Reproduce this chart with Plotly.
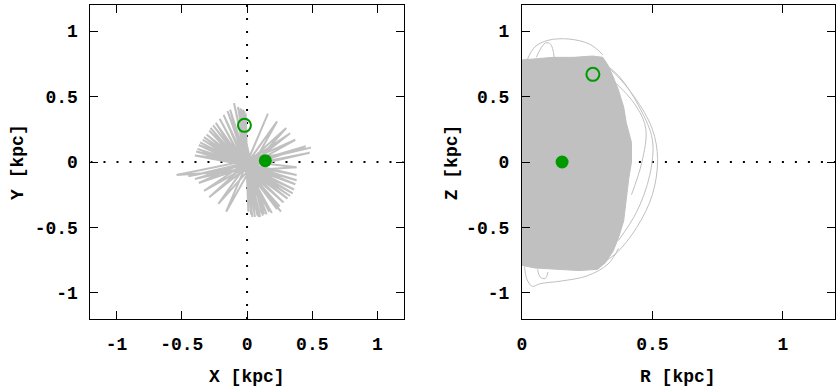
import plotly.graph_objects as go

# X-Y projection: apocentre points of the radial orbit, in path order (kpc)
XY_X = [-0.01, 0.01, -0.02, 0.03, -0.03, 0.04, -0.04, 0.06, -0.05, 0.09,
        -0.05, 0.11, -0.06, 0.12, -0.07, 0.08, -0.10, 0.10, -0.13, 0.13,
        -0.15, 0.15, -0.18, 0.17, -0.21, 0.19, -0.24, 0.23, -0.26, 0.26,
        -0.28, 0.25, -0.29, 0.28, -0.31, 0.31, -0.33, 0.33, -0.34, 0.35,
        -0.36, 0.36, -0.37, 0.37, -0.38, 0.38, -0.39, 0.38, -0.40, 0.38,
        -0.54, 0.49, -0.45, 0.48, -0.40, 0.45, -0.37, 0.37, -0.33, 0.33,
        -0.29, 0.30, -0.22, 0.23, -0.16, 0.16]
XY_Y = [0.37, -0.38, 0.39, -0.40, 0.40, -0.42, 0.40, -0.42, 0.41, -0.42,
        0.36, -0.39, 0.38, -0.41, 0.42, -0.41, 0.45, -0.42, 0.40, -0.40,
        0.39, -0.40, 0.36, -0.38, 0.33, -0.39, 0.30, -0.36, 0.28, -0.38,
        0.26, -0.34, 0.24, -0.31, 0.21, -0.28, 0.19, -0.26, 0.17, -0.24,
        0.15, -0.21, 0.13, -0.17, 0.10, -0.14, 0.08, -0.10, 0.05, -0.04,
        -0.10, 0.11, -0.11, 0.07, -0.13, 0.12, -0.16, 0.17, -0.22, 0.22,
        -0.27, 0.26, -0.32, 0.31, -0.38, 0.37]

# R-Z projection: outline of the densely filled orbit region (kpc)
RZ_FILL_R = [0.00, 0.05, 0.12, 0.20, 0.27, 0.31, 0.33, 0.35, 0.37, 0.39, 0.40, 0.42,
             0.42, 0.41, 0.40, 0.39, 0.37, 0.35, 0.32, 0.29, 0.22, 0.12, 0.05, 0.00]
RZ_FILL_Z = [0.78, 0.79, 0.80, 0.80, 0.81, 0.80, 0.74, 0.65, 0.55, 0.42, 0.30, 0.15,
             0.00, -0.12, -0.30, -0.45, -0.58, -0.68, -0.77, -0.82, -0.83, -0.82, -0.81, -0.79]

# R-Z projection: stray orbit loops outside the filled region
RZ_ARCS = [
    ([0.24, 0.33, 0.43, 0.50, 0.52, 0.50, 0.44, 0.36, 0.30],
     [0.80, 0.72, 0.50, 0.25, 0.02, -0.25, -0.50, -0.70, -0.78]),
    ([0.28, 0.37, 0.45, 0.50, 0.49, 0.44, 0.37],
     [0.80, 0.66, 0.42, 0.17, -0.10, -0.38, -0.60]),
    ([0.23, 0.35, 0.44, 0.475, 0.46, 0.42],
     [0.79, 0.62, 0.42, 0.25, 0.00, -0.25]),
    ([0.02, 0.05, 0.10, 0.18, 0.26, 0.31],
     [0.78, 0.88, 0.93, 0.94, 0.90, 0.82]),
    ([0.055, 0.09, 0.11, 0.124],
     [0.80, 0.91, 0.90, 0.80]),
    ([0.01, 0.02, 0.04, 0.07, 0.15, 0.25, 0.33, 0.37],
     [-0.80, -0.90, -0.95, -0.93, -0.91, -0.87, -0.78, -0.66]),
    ([0.06, 0.07, 0.09, 0.10],
     [-0.82, -0.88, -0.89, -0.84]),
]

# start (filled) and end (open) positions
START_XY = (0.14, 0.01)
END_XY = (-0.02, 0.28)
START_RZ = (0.154, 0.00)
END_RZ = (0.272, 0.67)

ORBIT = "#c0c0c0"
GREEN = "#009a00"
W, H = 840, 390

fig = go.Figure()

fig.add_trace(go.Scatter(x=XY_X, y=XY_Y, mode="lines", line=dict(color=ORBIT, width=2),
                         xaxis="x", yaxis="y", hoverinfo="skip"))
fig.add_trace(go.Scatter(x=RZ_FILL_R, y=RZ_FILL_Z, mode="lines", fill="toself",
                         fillcolor=ORBIT, line=dict(color=ORBIT, width=1),
                         xaxis="x2", yaxis="y2", hoverinfo="skip"))
for r, z in RZ_ARCS:
    fig.add_trace(go.Scatter(x=r, y=z, mode="lines", line=dict(color=ORBIT, width=1, shape="spline"),
                             xaxis="x2", yaxis="y2", hoverinfo="skip"))

for xa, ya, s, e in [("x", "y", START_XY, END_XY), ("x2", "y2", START_RZ, END_RZ)]:
    fig.add_trace(go.Scatter(x=[s[0]], y=[s[1]], mode="markers", xaxis=xa, yaxis=ya,
                             marker=dict(color=GREEN, size=13, line=dict(width=0))))
    fig.add_trace(go.Scatter(x=[e[0]], y=[e[1]], mode="markers", xaxis=xa, yaxis=ya,
                             marker=dict(symbol="circle-open", color=GREEN, size=13,
                                         line=dict(width=2))))

dot = dict(color="black", width=2, dash="2px,11px")
fig.add_shape(type="line", xref="x", yref="y", x0=-1.2, x1=1.2, y0=0, y1=0, line=dot, layer="below")
fig.add_shape(type="line", xref="x", yref="y", x0=0, x1=0, y0=-1.2, y1=1.2, line=dot, layer="below")
fig.add_shape(type="line", xref="x2", yref="y2", x0=0, x1=1.2, y0=0, y1=0, line=dot, layer="below")

axis_style = dict(showgrid=False, zeroline=False, showline=True, linecolor="black", linewidth=1,
                  mirror="ticks", ticks="inside", ticklen=8, tickcolor="black", tickwidth=1,
                  ticklabelstandoff=8)
yticks = dict(tickvals=[-1, -0.5, 0, 0.5, 1], ticktext=["-1", "-0.5", "0", "0.5", "1"], range=[-1.2, 1.2])

fig.update_layout(
    width=W, height=H,
    margin=dict(l=0, r=0, t=0, b=0),
    paper_bgcolor="white", plot_bgcolor="white",
    showlegend=False,
    font=dict(family="Liberation Mono", size=18, color="black", weight="bold"),
    xaxis=dict(domain=[86 / W, 401 / W], range=[-1.2, 1.2], anchor="y",
               tickvals=[-1, -0.5, 0, 0.5, 1], ticktext=["-1", "-0.5", "0", "0.5", "1"], **axis_style),
    yaxis=dict(domain=[71 / H, 385 / H], anchor="x", **yticks, **axis_style),
    xaxis2=dict(domain=[520 / W, 835 / W], range=[0, 1.2], anchor="y2",
                tickvals=[0, 0.5, 1], ticktext=["0", "0.5", "1"], **axis_style),
    yaxis2=dict(domain=[71 / H, 385 / H], anchor="x2", **yticks, **axis_style),
)

titles = [("X [kpc]", 243.5, 377, 0), ("R [kpc]", 677.5, 377, 0),
          ("Y [kpc]", 13, 162, -90), ("Z [kpc]", 450, 162, -90)]
for text, px, py, ang in titles:
    fig.add_annotation(text=text, x=px / W, y=1 - py / H, xref="paper", yref="paper",
                       showarrow=False, textangle=ang, xanchor="center", yanchor="middle",
                       font=dict(size=18))

# drop the browser's default page margin so the figure sits at the top-left corner
fig.write_html("out.html", config={"displayModeBar": False},
               post_script="document.body.style.margin='0';")
